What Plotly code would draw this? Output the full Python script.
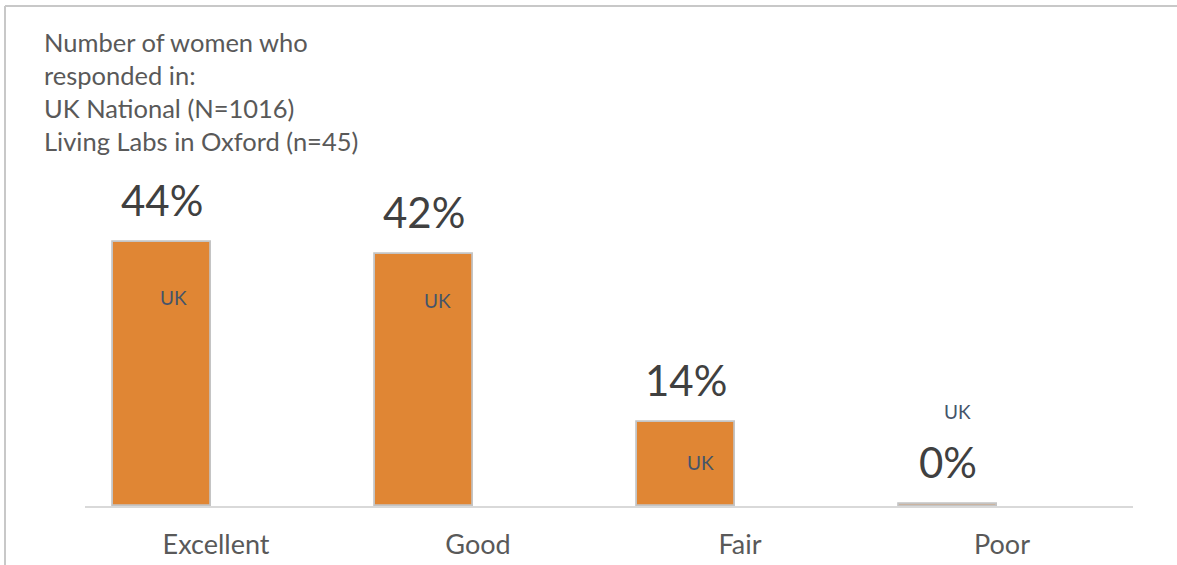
import plotly.graph_objects as go

# Self-rated health, UK national sample
categories = ["Excellent", "Good", "Fair", "Poor"]
uk_percent = [44, 42, 14, 0.4]
series_tag = ["UK", "UK", "UK", "UK"]

title_lines = [
    "Number of women who",
    "responded in:",
    "UK National (N=1016)",
    "Living Labs in Oxford (n=45)",
]

# Figure geometry (pixels)
W, H = 1177, 565
L, R, T, B = 85, 44, 206, 59
plot_w = W - L - R
plot_h = H - T - B
Y_MAX = 50

bar_offset = -0.393
bar_width = 0.374
bar_center = bar_offset + bar_width / 2

# hand-placed "UK" tags: pixel shift from each bar top
tag_yshift = [-55, -46, -40, 92]
tag_xshift = [11, 13, 14, 9]

FONT = "Lato"

fig = go.Figure()
fig.add_trace(go.Bar(
    x=categories,
    y=uk_percent,
    offset=bar_offset,
    width=bar_width,
    marker=dict(color="#E08634", line=dict(color="#C4C4C4", width=1.8)),
    hoverinfo="skip",
    showlegend=False,
))

annotations = []
for i, v in enumerate(uk_percent):
    annotations.append(dict(
        x=i + bar_center, y=v, xref="x", yref="y",
        text=f"{v:.0f}%", showarrow=False,
        xanchor="center", yanchor="middle", yshift=42,
        font=dict(family=FONT, size=42, color="#404040"),
    ))
    annotations.append(dict(
        x=i + bar_center, y=v, xref="x", yref="y",
        text=series_tag[i], showarrow=False,
        xanchor="center", yanchor="middle",
        xshift=tag_xshift[i], yshift=tag_yshift[i],
        font=dict(family=FONT, size=19, color="#44546A"),
    ))

annotations.append(dict(
    x=0, y=1, xref="paper", yref="paper",
    xanchor="left", yanchor="top", align="left",
    xshift=42 - L, yshift=T - 25,
    text="<br>".join(title_lines), showarrow=False,
    font=dict(family=FONT, size=25.5, color="#595959"),
))


def px_x(px):
    return (px - L) / plot_w


def px_y(py):
    return (H - B - py) / plot_h


# chart-area frame (top and left edges)
shapes = [
    dict(type="line", xref="paper", yref="paper",
         x0=px_x(5), x1=px_x(W + 5), y0=px_y(6), y1=px_y(6),
         line=dict(color="#C8C8C8", width=2)),
    dict(type="line", xref="paper", yref="paper",
         x0=px_x(5), x1=px_x(5), y0=px_y(6), y1=px_y(H + 5),
         line=dict(color="#C8C8C8", width=2)),
]

fig.update_layout(
    width=W, height=H,
    margin=dict(l=L, r=R, t=T, b=B, autoexpand=False),
    paper_bgcolor="white", plot_bgcolor="white",
    font=dict(family=FONT),
    annotations=annotations,
    shapes=shapes,
    bargap=0,
    xaxis=dict(
        type="category",
        automargin=False,
        showline=True, linecolor="#D9D9D9", linewidth=1.5,
        showgrid=False, ticks="", zeroline=False,
        tickfont=dict(family=FONT, size=27, color="#595959"),
        ticklabelstandoff=14,
        fixedrange=True,
    ),
    yaxis=dict(range=[0, Y_MAX], visible=False, fixedrange=True,
               automargin=False),
)

fig.write_html("out.html")
